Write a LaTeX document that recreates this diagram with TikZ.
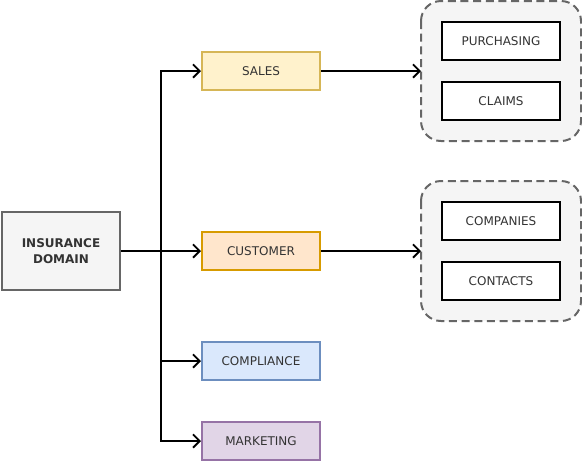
\documentclass[tikz,border=0pt]{standalone}
\usepackage{fontspec}
\setmainfont{DejaVu Sans}
\usetikzlibrary{arrows.meta}
\definecolor{grayF}{HTML}{F5F5F5}
\definecolor{grayS}{HTML}{666666}
\definecolor{yelF}{HTML}{FFF2CC}
\definecolor{yelS}{HTML}{D6B656}
\definecolor{orF}{HTML}{FFE6CC}
\definecolor{orS}{HTML}{D79B00}
\definecolor{bluF}{HTML}{DAE8FC}
\definecolor{bluS}{HTML}{6C8EBF}
\definecolor{purF}{HTML}{E1D5E7}
\definecolor{purS}{HTML}{9673A6}
\definecolor{txt}{HTML}{333333}
\tikzset{
  px/.style={x=0.75pt,y=-0.75pt},
  box/.style={draw, line width=1.5pt, minimum width=88.5pt, minimum height=28.5pt, inner sep=0pt, text=txt, font=\fontsize{9}{11}\selectfont, align=center},
  inner/.style={box, draw=black, fill=white, line width=1.6pt},
  grp/.style={draw=grayS, fill=grayF, dash pattern=on 6pt off 3.5pt, line width=1.5pt, rounded corners=15pt},
  conn/.style={line width=1.5pt, -{Straight Barb[length=5pt,width=10pt,line width=1.4pt]}},
}
\begin{document}
\begin{tikzpicture}[px]
\useasboundingbox (0,0) rectangle (582,462);
% groups
\draw[grp] (421,1) rectangle (581,141);
\draw[grp] (421,181) rectangle (581,321);
\node[coordinate] (g1) at (421,71) {};
\node[coordinate] (g2) at (421,251) {};
% nodes
\node[box, fill=grayF, draw=grayS, font=\fontsize{9}{11.5}\selectfont\bfseries, minimum height=58.5pt] (ins) at (61,251) {INSURANCE\\DOMAIN};
\node[box, fill=yelF, draw=yelS] (sales) at (261,71) {SALES};
\node[box, fill=orF, draw=orS] (cust) at (261,251) {CUSTOMER};
\node[box, fill=bluF, draw=bluS] (comp) at (261,361) {COMPLIANCE};
\node[box, fill=purF, draw=purS] (mark) at (261,441) {MARKETING};
\node[inner] (purch) at (501,41) {PURCHASING};
\node[inner] (claims) at (501,101) {CLAIMS};
\node[inner] (compn) at (501,221) {COMPANIES};
\node[inner] (cont) at (501,281) {CONTACTS};
% connectors
\draw[conn] (ins.east) -- ++(40,0) |- (sales.west);
\draw[conn] (ins.east) -- (cust.west);
\draw[conn] (ins.east) -- ++(40,0) |- (comp.west);
\draw[conn] (ins.east) -- ++(40,0) |- (mark.west);
\draw[conn] (sales.east) -- (g1);
\draw[conn] (cust.east) -- (g2);
\end{tikzpicture}
\end{document}
